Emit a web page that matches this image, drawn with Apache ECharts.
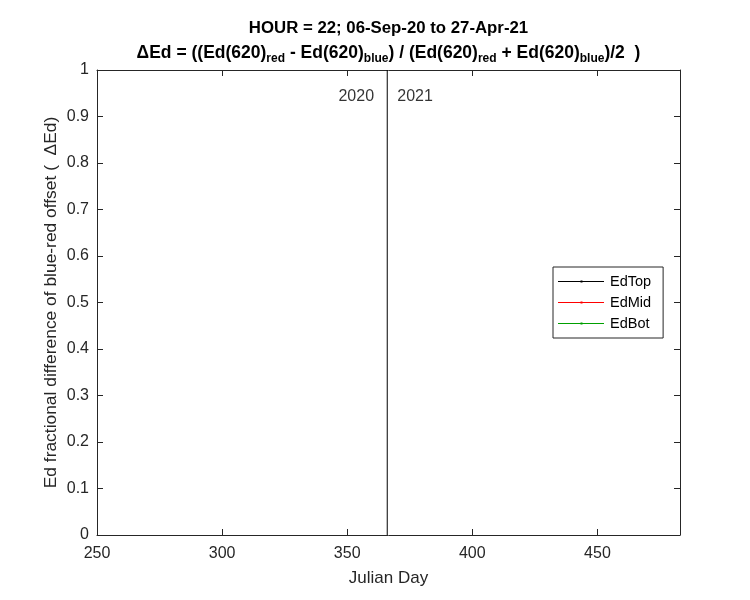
<!DOCTYPE html>
<html>
<head>
<meta charset="utf-8">
<script src="https://cdn.jsdelivr.net/npm/echarts@6/dist/echarts.min.js"></script>
<style>
html,body{margin:0;padding:0;background:#fff;}
#chart{width:750px;height:600px;}
</style>
</head>
<body>
<div id="chart"></div>
<script>
// ---- data ----
const titleLine1 = 'HOUR = 22; 06-Sep-20 to 27-Apr-21';
const xRange = [250, 483];          // Julian day range (06-Sep-20 .. 27-Apr-21)
const yRange = [0, 1];
const xInterval = 50;
const yInterval = 0.1;
const seriesNames = ['EdTop', 'EdMid', 'EdBot'];
const seriesColors = ['#000000', '#ff0000', '#00a000'];
const edTop = [];   // no visible data in the reference
const edMid = [];
const edBot = [];
const yearBoundaryLine = [[366, 0], [366, 1]];
const yearLabels = [[346.5, 0.943, '2020'], [370, 0.943, '2021']];

const FONT = '"Liberation Sans", Arial, Helvetica, sans-serif';
const AX = '#262626';

const chart = echarts.init(document.getElementById('chart'), null, {renderer: 'canvas'});

const legendIcon = 'path://M0 6.5H46V7.5H0Z M22.5 6H24.5V8H22.5Z';

const seriesData = [edTop, edMid, edBot];
const mainSeries = seriesNames.map((n, i) => ({
  name: n,
  type: 'line',
  data: seriesData[i],
  symbol: 'circle',
  symbolSize: 2,
  itemStyle: {color: seriesColors[i]},
  lineStyle: {color: seriesColors[i], width: 1},
  xAxisIndex: 0, yAxisIndex: 0
}));

const option = {
  backgroundColor: '#ffffff',
  animation: false,
  textStyle: {fontFamily: FONT},
  title: [
    {
      text: titleLine1,
      left: 388.5, top: 20, textAlign: 'center', padding: 0,
      textStyle: {fontFamily: FONT, fontSize: 16.8, fontWeight: 'bold', color: '#000', lineHeight: 17}
    },
    {
      text: '{b|ΔEd = ((Ed(620)}{s|red}{b| - Ed(620)}{s|blue}{b|) / (Ed(620)}{s|red}{b| + Ed(620)}{s|blue}{b|)/2  )}',
      left: 388.5, top: 41, textAlign: 'center', padding: 0,
      textStyle: {
        fontFamily: FONT, fontSize: 17.5, fontWeight: 'bold', color: '#000',
        rich: {
          b: {fontFamily: FONT, fontSize: 17.5, fontWeight: 'bold', color: '#000', lineHeight: 24, verticalAlign: 'middle'},
          s: {fontFamily: FONT, fontSize: 12, fontWeight: 'bold', color: '#000', lineHeight: 12, verticalAlign: 'bottom'}
        }
      }
    }
  ],
  legend: {
    orient: 'vertical',
    left: 553, top: 267,
    padding: [7, 12, 7, 5],
    itemWidth: 46, itemHeight: 14, itemGap: 6,
    borderColor: AX, borderWidth: 1, borderRadius: 0,
    backgroundColor: '#ffffff',
    itemStyle: {borderWidth: 0},
    textStyle: {fontFamily: FONT, fontSize: 14.5, color: '#000', padding: [0, 0, 0, 1]},
    data: seriesNames.map(n => ({name: n, icon: legendIcon}))
  },
  grid: {left: 97, right: 70, top: 70, bottom: 65, containLabel: false},
  xAxis: [
    {
      type: 'value', min: xRange[0], max: xRange[1], interval: xInterval,
      position: 'bottom',
      name: 'Julian Day', nameLocation: 'middle', nameGap: 35, nameMoveOverlap: false,
      nameTextStyle: {fontFamily: FONT, fontSize: 17, color: AX},
      axisLine: {show: true, onZero: false, lineStyle: {color: AX, width: 1}},
      axisTick: {show: true, inside: true, length: 6, lineStyle: {color: AX}},
      axisLabel: {show: true, fontFamily: FONT, fontSize: 16, color: AX, margin: 11, showMaxLabel: false},
      splitLine: {show: false}
    },
    {
      type: 'value', min: xRange[0], max: xRange[1], interval: xInterval,
      position: 'top',
      axisLine: {show: true, onZero: false, lineStyle: {color: AX, width: 1}},
      axisTick: {show: true, inside: true, length: 6, lineStyle: {color: AX}},
      axisLabel: {show: false},
      splitLine: {show: false}
    }
  ],
  yAxis: [
    {
      type: 'value', min: yRange[0], max: yRange[1], interval: yInterval,
      position: 'left',
      name: 'Ed fractional difference of blue-red offset (  ΔEd)',
      nameLocation: 'middle', nameGap: 37, nameMoveOverlap: false,
      nameTextStyle: {fontFamily: FONT, fontSize: 17.4, color: AX},
      axisLine: {show: true, onZero: false, lineStyle: {color: AX, width: 1}},
      axisTick: {show: true, inside: true, length: 6, lineStyle: {color: AX}},
      axisLabel: {show: true, fontFamily: FONT, fontSize: 16, color: AX, margin: 8},
      splitLine: {show: false}
    },
    {
      type: 'value', min: yRange[0], max: yRange[1], interval: yInterval,
      position: 'right',
      axisLine: {show: true, onZero: false, lineStyle: {color: AX, width: 1}},
      axisTick: {show: true, inside: true, length: 6, lineStyle: {color: AX}},
      axisLabel: {show: false},
      splitLine: {show: false}
    }
  ],
  series: mainSeries.concat([
    {
      name: 'yearBoundary',
      type: 'line',
      data: yearBoundaryLine,
      symbol: 'none',
      lineStyle: {color: '#000', width: 1},
      silent: true,
      xAxisIndex: 0, yAxisIndex: 0
    },
    {
      name: 'yearLabels',
      type: 'scatter',
      data: yearLabels,
      symbolSize: 0,
      silent: true,
      label: {
        show: true, position: 'right', distance: 0,
        formatter: p => p.value[2],
        fontFamily: FONT, fontSize: 16, color: '#000'
      },
      xAxisIndex: 0, yAxisIndex: 0
    }
  ])
};
chart.setOption(option);
</script>
</body>
</html>
